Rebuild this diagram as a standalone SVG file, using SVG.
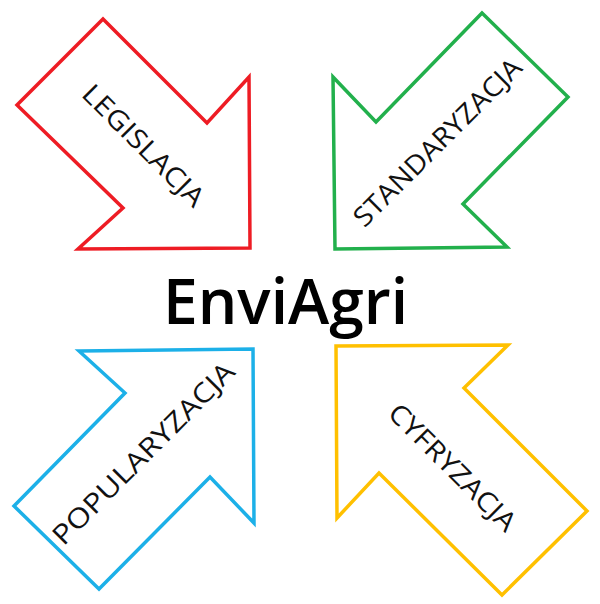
<svg xmlns="http://www.w3.org/2000/svg" width="600" height="604" viewBox="0 0 600 604">
<style>
.arrow{fill:#ffffff;stroke-width:3.5;stroke-linejoin:miter;stroke-miterlimit:10}
.lbl{font-family:"Open Sans","Liberation Sans",sans-serif;font-size:27px;fill:#111111;text-anchor:middle}
.title{font-family:"Open Sans","Liberation Sans",sans-serif;font-size:64px;font-weight:600;fill:#000000}
</style>
<rect width="600" height="604" fill="#ffffff"/>
<g id="legislacja">
<polygon class="arrow" stroke="#ee1c24" points="103,19 207,123 249,77 250,248 78,249 123,208 17,105"/>
<text class="lbl" transform="translate(144,145) rotate(45)" y="10" textLength="160" lengthAdjust="spacingAndGlyphs">LEGISLACJA</text>
</g>
<g id="standaryzacja">
<polygon class="arrow" stroke="#22b04c" points="482,13 568,97 463,204 507,247 335,249 333,77 376,122"/>
<text class="lbl" transform="translate(437,142) rotate(-45)" y="10" textLength="225" lengthAdjust="spacingAndGlyphs">STANDARYZACJA</text>
</g>
<g id="popularyzacja">
<polygon class="arrow" stroke="#1cb0e8" points="79,351 253,349 254,523 210,477 99,589 14,506 125,393"/>
<text class="lbl" transform="translate(143,453) rotate(-45)" y="10" textLength="245" lengthAdjust="spacingAndGlyphs">POPULARYZACJA</text>
</g>
<g id="cyfryzacja">
<polygon class="arrow" stroke="#ffc000" points="336,346 508,345 464,388 587,511 502,595 379,473 337,518"/>
<text class="lbl" transform="translate(453,467) rotate(45)" y="10" textLength="168" lengthAdjust="spacingAndGlyphs">CYFRYZACJA</text>
</g>
<g id="enviagri">
<text class="title" x="163" y="324" textLength="245" lengthAdjust="spacingAndGlyphs">EnviAgri</text>
</g>
<g id="connectors"></g>
</svg>
